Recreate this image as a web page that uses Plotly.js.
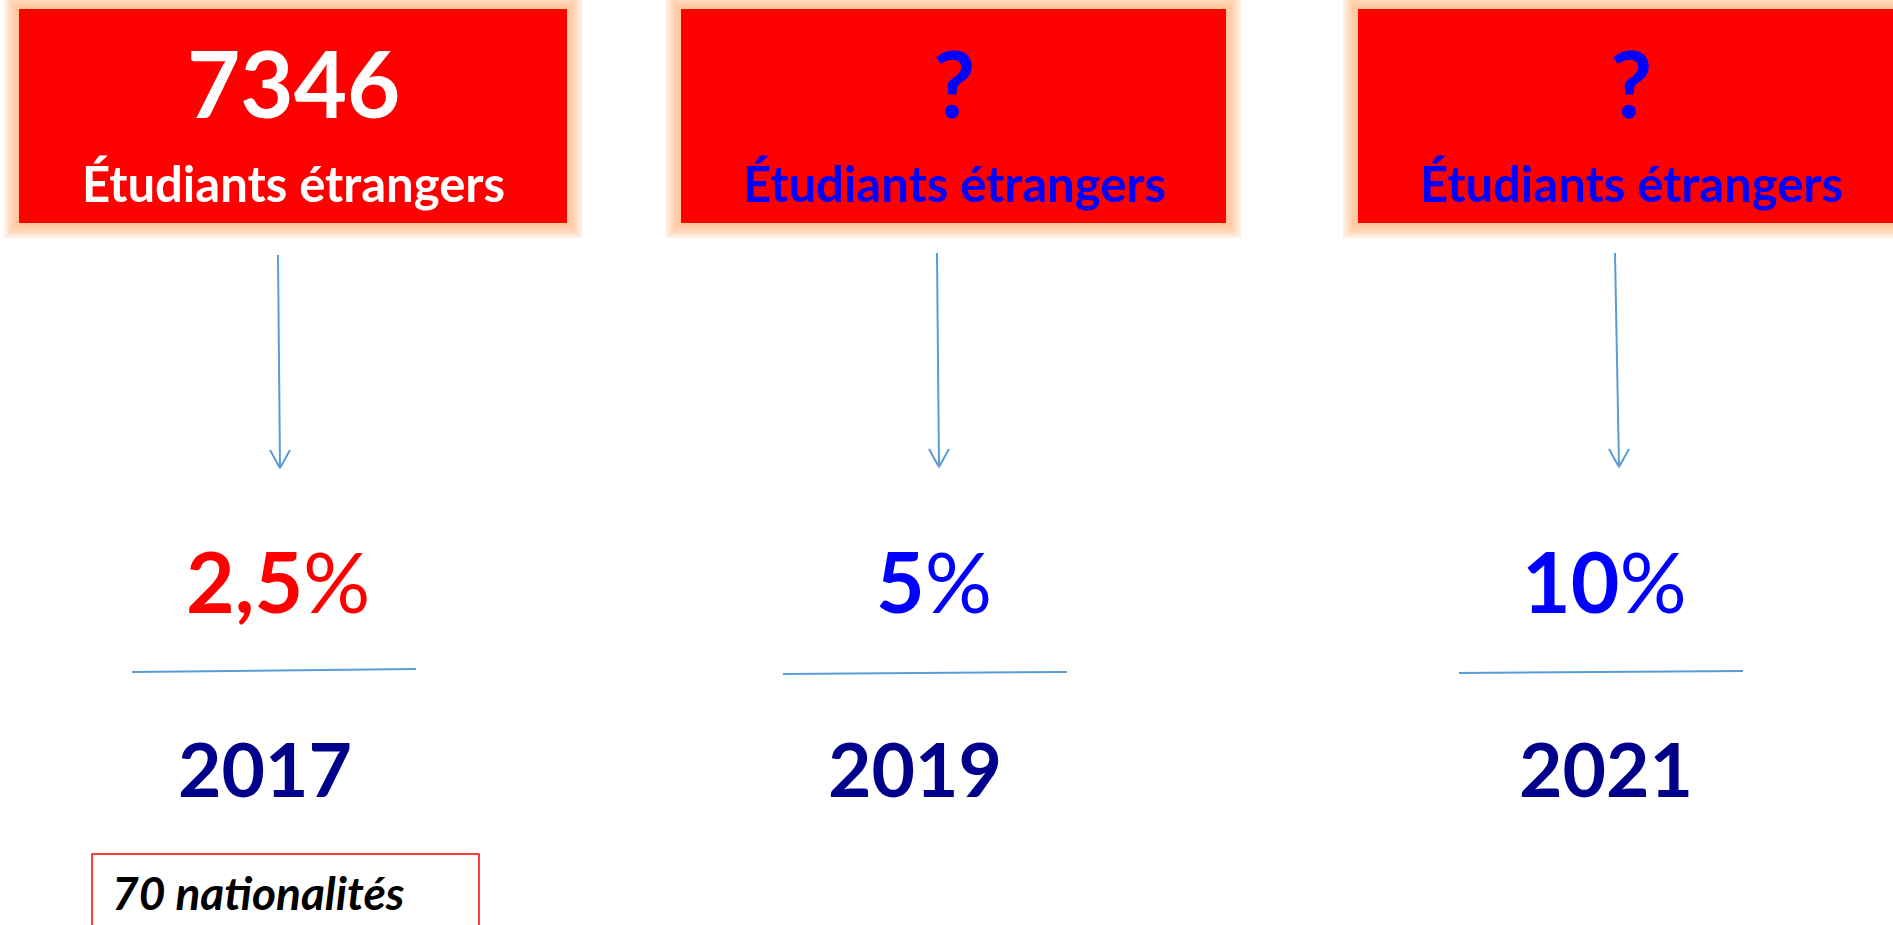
<!DOCTYPE html>
<html>
<head>
<meta charset="utf-8">
<script src="https://cdn.plot.ly/plotly-3.0.1.min.js"></script>
<style>html,body{margin:0;padding:0;background:#fff;overflow:hidden}#chart{width:1893px;height:925px}</style>
</head>
<body>
<div id="chart"></div>
<script>
// ---- data ----
const years = ['2017', '2019', '2021'];
const percentValues = ['2,5', '5', '10'];
const studentCounts = ['7346', '?', '?'];
const boxLabel = 'Étudiants étrangers';
const noteText = '70 nationalités';
const countColors = ['#FFFFFF', '#0000FF', '#0000FF'];
const percentColors = ['#FF0000', '#0000FF', '#0000FF'];

// ---- layout geometry (pixel space) ----
const W = 1893, H = 925;
const FONT = 'Lato, "Open Sans", sans-serif';
const boxes = [[19, 567], [681, 1226], [1358, 1904]];
const boxTop = 9, boxBottom = 223;
const boxTextX = [293, 954, 1631];
const arrows = [[278, 255, 280, 468], [937, 253, 939, 467], [1615, 253, 1619, 467]];
const rules = [[132, 672, 416, 669], [783, 674, 1067, 672], [1459, 673, 1743, 671]];
const pctX = [278, 934, 1604];
const yearX = [265, 915, 1606];

const traces = [];
const shapes = [];
const annotations = [];
const lineBlue = '#5B9BD5';

years.forEach((yr, i) => {
  const [x0, x1] = boxes[i];
  // glow
  for (let k = 6; k >= 1; k--) {
    const g = k * 2.5;
    shapes.push({type: 'rect', xref: 'x', yref: 'y', x0: x0 - g, x1: x1 + g, y0: boxTop - g, y1: boxBottom + g,
      fillcolor: '#FFB27D', opacity: 0.2, line: {width: 0}, layer: 'below'});
  }
  shapes.push({type: 'rect', xref: 'x', yref: 'y', x0: x0, x1: x1, y0: boxTop, y1: boxBottom,
    fillcolor: '#FF0000', line: {width: 0}, layer: 'below'});

  annotations.push({x: boxTextX[i], y: 82, xref: 'x', yref: 'y', showarrow: false, xanchor: 'center', yanchor: 'middle',
    text: '<b>' + studentCounts[i] + '</b>', font: {family: FONT, size: 92, color: countColors[i]}});
  annotations.push({x: boxTextX[i], y: 183, xref: 'x', yref: 'y', showarrow: false, xanchor: 'center', yanchor: 'middle',
    text: '<b>' + boxLabel + '</b>', font: {family: FONT, size: 49, color: countColors[i]}});

  // arrow
  const [ax0, ay0, ax1, ay1] = arrows[i];
  traces.push({type: 'scatter', mode: 'lines', hoverinfo: 'skip', showlegend: false,
    x: [ax0, ax1, null, ax1 - 10, ax1, ax1 + 10], y: [ay0, ay1, null, ay1 - 18, ay1, ay1 - 18],
    line: {color: lineBlue, width: 2}});

  // percentage
  annotations.push({x: pctX[i], y: 580, xref: 'x', yref: 'y', showarrow: false, xanchor: 'center', yanchor: 'middle',
    text: '<b>' + percentValues[i] + '</b>%', font: {family: FONT, size: 84, color: percentColors[i]}});

  // rule
  const [rx0, ry0, rx1, ry1] = rules[i];
  traces.push({type: 'scatter', mode: 'lines', hoverinfo: 'skip', showlegend: false,
    x: [rx0, rx1], y: [ry0, ry1], line: {color: lineBlue, width: 2}});

  // year
  annotations.push({x: yearX[i], y: 768, xref: 'x', yref: 'y', showarrow: false, xanchor: 'center', yanchor: 'middle',
    text: '<b>' + yr + '</b>', font: {family: FONT, size: 75, color: '#00008B'}});
});

// note box
shapes.push({type: 'rect', xref: 'x', yref: 'y', x0: 92, x1: 479, y0: 854, y1: 945,
  fillcolor: 'rgba(0,0,0,0)', line: {color: '#FF0000', width: 1.5}});
annotations.push({x: 110, y: 892, xref: 'x', yref: 'y', showarrow: false, xanchor: 'left', yanchor: 'middle',
  text: '<b><i>' + noteText + '</i></b>', font: {family: FONT, size: 46, color: '#000000'}});

const layout = {
  width: W, height: H,
  margin: {l: 0, r: 0, t: 0, b: 0},
  paper_bgcolor: '#FFFFFF', plot_bgcolor: '#FFFFFF',
  xaxis: {range: [0, W], visible: false, fixedrange: true},
  yaxis: {range: [H, 0], visible: false, fixedrange: true},
  shapes: shapes, annotations: annotations, showlegend: false
};
Plotly.newPlot('chart', traces, layout, {staticPlot: true, displayModeBar: false});
</script>
</body>
</html>
